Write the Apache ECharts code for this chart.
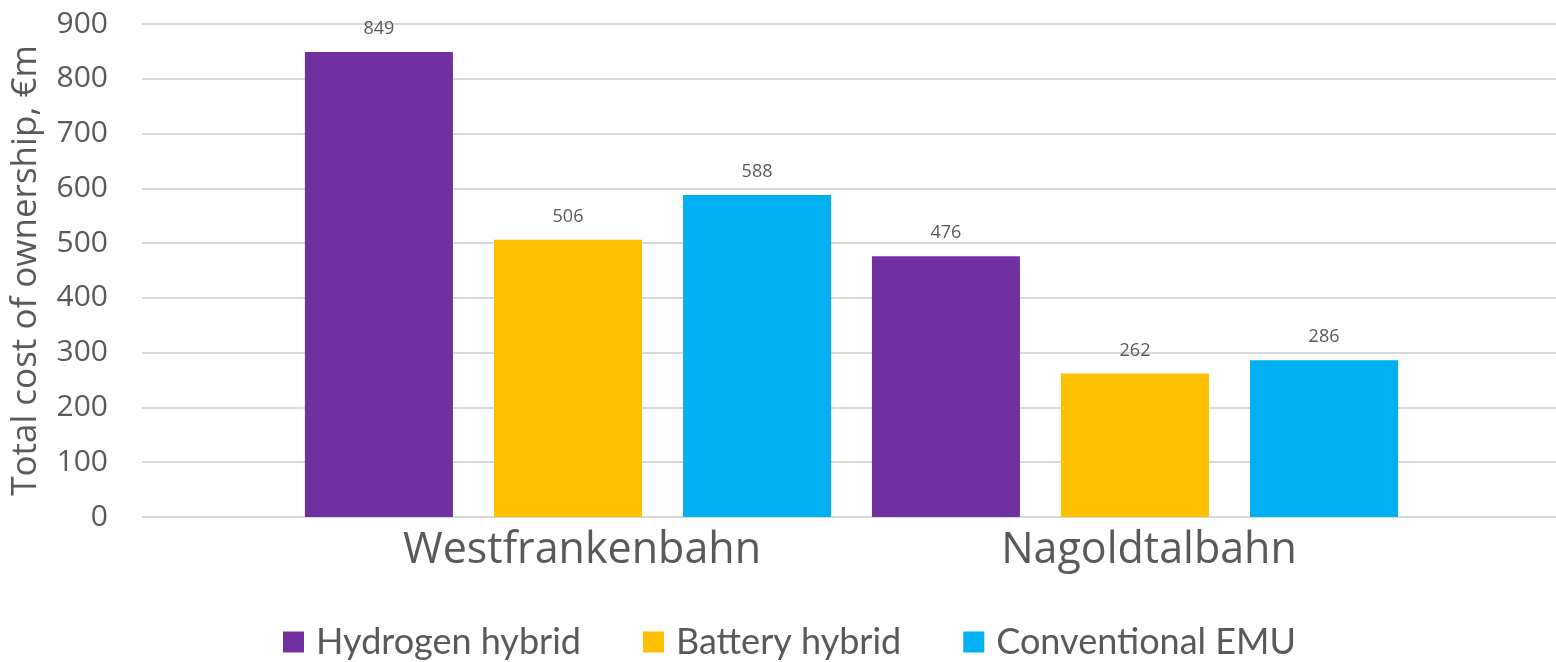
<!DOCTYPE html>
<html>
<head>
<meta charset="utf-8">
<script src="https://cdn.jsdelivr.net/npm/echarts@6/dist/echarts.min.js"></script>
<style>
  html, body { margin: 0; padding: 0; background: #fff; }
  #chart { width: 1556px; height: 662px; }
</style>
</head>
<body>
<div id="chart"></div>
<script>
// data
const routes = ['Westfrankenbahn', 'Nagoldtalbahn'];
const hydrogenHybrid = [849, 476];
const batteryHybrid = [506, 262];
const conventionalEmu = [588, 286];
const yTicks = [0, 100, 200, 300, 400, 500, 600, 700, 800, 900];

const textColor = '#595959';
const font = 'Open Sans';

const chart = echarts.init(document.getElementById('chart'));

function barSeries(name, data, color) {
  return {
    name: name,
    type: 'bar',
    xAxisIndex: 1,
    yAxisIndex: 1,
    data: data,
    barGap: '27.7%',
    barCategoryGap: '7.2%',
    itemStyle: { color: color },
    label: {
      show: true,
      position: 'top',
      distance: 14,
      color: textColor,
      fontFamily: font,
      fontSize: 18
    }
  };
}

chart.setOption({
  animation: false,
  backgroundColor: '#fff',
  // grid 0 carries the gridlines and y labels, grid 1 carries the bars
  grid: [
    { left: 142, right: 0, top: 24, bottom: 145 },
    { left: 284.5, right: 137.5, top: 24, bottom: 145 }
  ],
  legend: {
    left: 278,
    top: 619,
    itemWidth: 21,
    itemHeight: 21,
    itemGap: 62,
    icon: 'rect',
    textStyle: { color: textColor, fontFamily: 'Lato', fontSize: 36, padding: [0, 0, 0, 7] },
    data: ['Hydrogen hybrid', 'Battery hybrid', 'Conventional EMU']
  },
  xAxis: [
    { type: 'category', gridIndex: 0, data: [''], show: false },
    {
      type: 'category',
      gridIndex: 1,
      data: routes,
      axisLine: { show: false },
      axisTick: { show: false },
      axisLabel: {
        color: textColor,
        fontFamily: font,
        fontSize: 43,
        margin: 12,
        padding: [0, 0, 0, 28]
      }
    }
  ],
  yAxis: [
    {
      type: 'value',
      gridIndex: 0,
      min: yTicks[0],
      max: yTicks[yTicks.length - 1],
      interval: 100,
      name: 'Total cost of ownership, €m',
      nameLocation: 'middle',
      nameGap: 98,
      nameTextStyle: { color: textColor, fontFamily: font, fontSize: 35 },
      axisLine: { show: false },
      axisTick: { show: false },
      axisLabel: { color: textColor, fontFamily: font, fontSize: 30, margin: 34 },
      splitLine: { lineStyle: { color: '#d9d9d9', width: 2 } }
    },
    {
      type: 'value',
      gridIndex: 1,
      min: yTicks[0],
      max: yTicks[yTicks.length - 1],
      interval: 100,
      show: false,
      splitLine: { show: false }
    }
  ],
  series: [
    barSeries('Hydrogen hybrid', hydrogenHybrid, '#7030a0'),
    barSeries('Battery hybrid', batteryHybrid, '#ffc000'),
    barSeries('Conventional EMU', conventionalEmu, '#00b0f0')
  ]
});
</script>
</body>
</html>
